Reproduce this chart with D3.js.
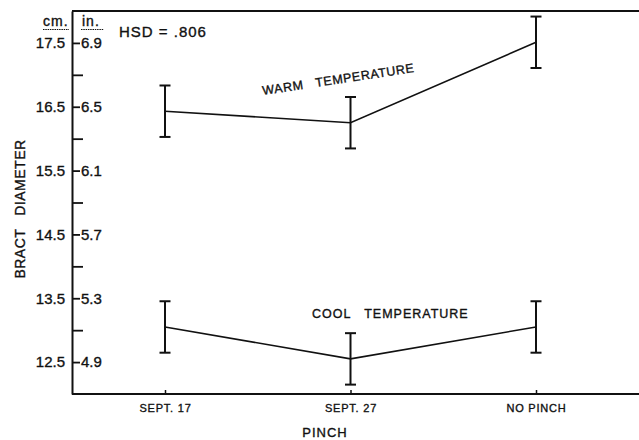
<!DOCTYPE html>
<html>
<head>
<meta charset="utf-8">
<script src="https://cdn.jsdelivr.net/npm/d3@7"></script>
<style>
  body { margin: 0; background: #fff; }
  text { font-family: "Liberation Sans", Arial, sans-serif; fill: #111; stroke: #111; stroke-width: 0.35px; }
</style>
</head>
<body>
<div id="chart"></div>
<script>
// Chart data
const pinchGroups = ["SEPT. 17", "SEPT. 27", "NO PINCH"];
const warmValues = [16.43, 16.25, 17.51];
const coolValues = [13.05, 12.55, 13.05];
const hsd = 0.806;
const cmTicks = [12.5, 13.5, 14.5, 15.5, 16.5, 17.5];
const cmMinorTicks = [13, 14, 15, 16, 17];
const inchLabels = ["4.9", "5.3", "5.7", "6.1", "6.5", "6.9"];

const width = 639;
const height = 440;
const margin = {left: 72, right: 0, top: 11, bottom: 46};

const svg = d3.select("#chart")
              .append("svg")
              .attr("width", width)
              .attr("height", height);

svg.append("rect")
    .attr("width", width)
    .attr("height", height)
    .attr("fill", "#fff");

// scales
let y = d3.scaleLinear()
          .domain([12, 18])
          .range([height - margin.bottom, margin.top]);
let x = d3.scalePoint()
          .domain(pinchGroups)
          .range([165, 536]);

const ink = "#111";

// left axis: major ticks with cm labels
const yAxis = svg.append("g")
    .attr("transform", "translate(" + margin.left + ",0)")
    .call(d3.axisLeft(y).tickValues(cmTicks).tickSizeInner(-8).tickSizeOuter(0)
          .tickPadding(7).tickFormat(d3.format(".1f")));
yAxis.select(".domain").attr("stroke", ink).attr("stroke-width", 2);
yAxis.selectAll(".tick line").attr("stroke", ink).attr("stroke-width", 1.8);
yAxis.selectAll(".tick text").style("font-size", "15px").attr("fill", ink);

// minor ticks
const yMinor = svg.append("g")
    .attr("transform", "translate(" + margin.left + ",0)")
    .call(d3.axisLeft(y).tickValues(cmMinorTicks).tickSize(-11).tickFormat(""));
yMinor.select(".domain").remove();
yMinor.selectAll(".tick line").attr("stroke", ink).attr("stroke-width", 1.8);

// inch labels
const yInch = svg.append("g")
    .attr("transform", "translate(" + margin.left + ",0)")
    .call(d3.axisRight(y).tickValues(cmTicks).tickSize(0).tickPadding(9)
          .tickFormat((d, i) => inchLabels[i]));
yInch.select(".domain").remove();
yInch.selectAll(".tick text").style("font-size", "15px").attr("fill", ink);

// unit headers
svg.append("text")
    .attr("x", 43).attr("y", 26)
    .text("cm.")
    .style("font-size", "14px")
    .style("letter-spacing", "1px");
svg.append("line")
    .attr("x1", 43).attr("x2", 69).attr("y1", 29.5).attr("y2", 29.5)
    .attr("stroke", ink).attr("stroke-width", 1).attr("stroke-dasharray", "1.5,0.8");
svg.append("text")
    .attr("x", 82).attr("y", 26)
    .text("in.")
    .style("font-size", "14px")
    .style("letter-spacing", "1px");
svg.append("line")
    .attr("x1", 81).attr("x2", 104).attr("y1", 29.5).attr("y2", 29.5)
    .attr("stroke", ink).attr("stroke-width", 1).attr("stroke-dasharray", "1.5,0.8");

// top frame line
svg.append("line")
    .attr("x1", margin.left).attr("x2", width)
    .attr("y1", y(18)).attr("y2", y(18))
    .attr("stroke", ink).attr("stroke-width", 2);

// bottom axis
svg.append("line")
    .attr("x1", margin.left).attr("x2", width)
    .attr("y1", y(12)).attr("y2", y(12))
    .attr("stroke", ink).attr("stroke-width", 2);
const xAxis = svg.append("g")
    .attr("transform", "translate(0," + y(12) + ")")
    .call(d3.axisBottom(x).tickSize(-4).tickPadding(10));
xAxis.select(".domain").remove();
xAxis.selectAll(".tick line").attr("stroke", ink).attr("stroke-width", 1.5);
xAxis.selectAll(".tick text")
    .style("font-size", "11px")
    .style("letter-spacing", "0.8px")
    .attr("fill", ink);

// axis titles
svg.append("text")
    .attr("x", 325).attr("y", 437)
    .attr("text-anchor", "middle")
    .text("PINCH")
    .style("font-size", "13px")
    .style("letter-spacing", "1px");
svg.append("text")
    .attr("transform", "translate(25,209) rotate(-90)")
    .attr("text-anchor", "middle")
    .attr("xml:space", "preserve")
    .text("BRACT   DIAMETER")
    .style("font-size", "14px")
    .style("letter-spacing", "0.5px");

svg.append("text")
    .attr("x", 119).attr("y", 37)
    .text("HSD = .806")
    .style("font-size", "15px")
    .style("letter-spacing", "1px");

// lines with error bars
const line = d3.line()
    .x((d, i) => x(pinchGroups[i]))
    .y(d => y(d));

function drawSeries(values) {
  svg.append("path")
      .datum(values)
      .attr("d", line)
      .attr("fill", "none")
      .attr("stroke", ink)
      .attr("stroke-width", 1.6);
  const g = svg.append("g");
  values.forEach((v, i) => {
    const cx = x(pinchGroups[i]);
    g.append("line")
        .attr("x1", cx).attr("x2", cx)
        .attr("y1", y(v - hsd / 2)).attr("y2", y(v + hsd / 2))
        .attr("stroke", ink).attr("stroke-width", 2);
    [v - hsd / 2, v + hsd / 2].forEach(e => {
      g.append("line")
          .attr("x1", cx - 5.5).attr("x2", cx + 5.5)
          .attr("y1", y(e)).attr("y2", y(e))
          .attr("stroke", ink).attr("stroke-width", 2);
    });
  });
}
drawSeries(warmValues);
drawSeries(coolValues);

// series labels
svg.append("text")
    .attr("transform", "translate(263,95) rotate(-8.6)")
    .attr("xml:space", "preserve")
    .text("WARM   TEMPERATURE")
    .style("font-size", "12.5px")
    .style("letter-spacing", "0.6px");
svg.append("text")
    .attr("x", 312).attr("y", 318)
    .attr("xml:space", "preserve")
    .text("COOL   TEMPERATURE")
    .style("font-size", "12.5px")
    .style("letter-spacing", "1px");
</script>
</body>
</html>
